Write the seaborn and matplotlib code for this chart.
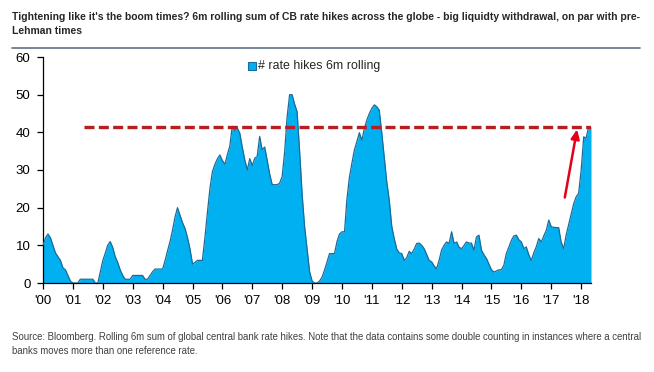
import numpy as np
import pandas as pd
import matplotlib
matplotlib.use("Agg")
import matplotlib.pyplot as plt
import matplotlib.dates as mdates
from matplotlib.patches import Rectangle
import seaborn as sns

# ---- data: monthly 6m rolling sum of CB rate hikes ----
hikes_2000 = [10, 12, 13, 12, 10, 8, 7, 6, 4, 3.5, 2, 0.5]
hikes_2001 = [0, 0, 0, 1, 1, 1, 1, 1, 1, 0, 0, 3]
hikes_2002 = [6, 8, 10, 11, 9.5, 7, 5.5, 3.5, 2, 1, 1, 1]
hikes_2003 = [2, 2, 2, 2, 2, 1, 1, 2, 3, 3.7, 3.7, 3.7]
hikes_2004 = [3.7, 6, 8.5, 11, 14, 17.5, 20, 18, 16, 14.5, 12, 9]
hikes_2005 = [5, 5.5, 6, 6, 6, 12, 18.6, 25, 29.6, 31.5, 33, 34]
hikes_2006 = [32.5, 31.5, 34, 36.3, 41.6, 40.4, 41.2, 39.8, 36, 32.7, 30, 33]
hikes_2007 = [31.2, 33.2, 33.5, 38.9, 35.4, 36.1, 32.7, 29, 26.1, 26.1, 26.1, 26.5]
hikes_2008 = [28.3, 35, 44, 50, 50, 47.5, 45.5, 35, 23.5, 15, 9, 3]
hikes_2009 = [0.5, 0, 0, 0.5, 1.5, 3.4, 5.5, 7.8, 7.8, 7.8, 11, 13]
hikes_2010 = [13.6, 13.6, 22, 28, 31.7, 35.3, 37.5, 39.9, 37.9, 41, 43.3, 45]
hikes_2011 = [46.4, 47.3, 46.8, 45.9, 40, 33.5, 27, 22, 15, 11.8, 9, 8]
hikes_2012 = [7.8, 6, 6.7, 8.4, 7.8, 9, 10.5, 10.6, 10, 9.1, 7.5, 6]
hikes_2013 = [5.6, 4.5, 3.8, 6, 8.7, 10, 10.9, 10.5, 13.6, 10.5, 10.9, 9.5]
hikes_2014 = [9.1, 10, 10.9, 10.6, 10.6, 8.7, 12.2, 12.7, 8.7, 7.5, 6.5, 5]
hikes_2015 = [3.5, 2.9, 3.2, 3.5, 3.5, 4.7, 7.8, 9.5, 11.3, 12.5, 12.7, 11.5]
hikes_2016 = [10.9, 9.1, 9.6, 7.5, 6, 8, 9.6, 11.8, 10.9, 12.5, 14, 16.7]
hikes_2017 = [14.9, 14.8, 14.7, 14.7, 10.9, 9.1, 12.7, 15.5, 18.4, 21, 22.9, 23.8]
hikes_2018 = [30, 38.8, 38.4, 41.3, 41.5]

series_label = "# rate hikes 6m rolling"
threshold = 41.3
threshold_start = "2001-05-10"
arrow_from = ("2017-06-15", 22.7)
arrow_to = ("2017-11-12", 40.8)

title = ("Tightening like it's the boom times? 6m rolling sum of CB rate hikes across the globe - big liquidty withdrawal, on par with pre-\n"
         "Lehman times")
footnote = ("Source: Bloomberg. Rolling 6m sum of global central bank rate hikes. Note that the data contains some double counting in instances where a central\n"
            "banks moves more than one reference rate.")

values = (hikes_2000 + hikes_2001 + hikes_2002 + hikes_2003 + hikes_2004 + hikes_2005
          + hikes_2006 + hikes_2007 + hikes_2008 + hikes_2009 + hikes_2010 + hikes_2011
          + hikes_2012 + hikes_2013 + hikes_2014 + hikes_2015 + hikes_2016 + hikes_2017
          + hikes_2018)
dates = pd.date_range("2000-01-01", periods=len(values), freq="MS")
df = pd.DataFrame({"date": dates, "hikes": values})

sns.set_style("ticks")
plt.rcParams["font.family"] = ["Liberation Sans", "DejaVu Sans"]

fig = plt.figure(figsize=(6.54, 3.72), dpi=100)
ax = fig.add_axes([43 / 654, 1 - 283 / 372, (591 - 43) / 654, (283 - 57) / 372])

fill_c = "#00B0F0"
edge_c = "#1b6b98"
ax.fill_between(df["date"], 0, df["hikes"], color=fill_c, linewidth=0, zorder=2)
sns.lineplot(data=df, x="date", y="hikes", ax=ax, color=edge_c, linewidth=0.9, zorder=3)

# threshold dashed line
ax.plot([pd.Timestamp(threshold_start), df["date"].iloc[-1]], [threshold, threshold],
        color="#B81D24", linewidth=2.4, dashes=(3.0, 1.3), zorder=4, solid_capstyle="butt")

# arrow
ax.annotate("", xy=(pd.Timestamp(arrow_to[0]), arrow_to[1]),
            xytext=(pd.Timestamp(arrow_from[0]), arrow_from[1]),
            arrowprops=dict(arrowstyle="-|>,head_length=0.55,head_width=0.25",
                            color="#E3001B", lw=1.8, shrinkA=0, shrinkB=0), zorder=5)

ax.set_xlim(df["date"].iloc[0], df["date"].iloc[-1])
ax.set_ylim(0, 60)
ax.set_yticks(range(0, 61, 10))
ax.xaxis.set_major_locator(mdates.YearLocator())
ax.xaxis.set_major_formatter(mdates.DateFormatter("'%y"))
ax.set_xlabel("")
ax.set_ylabel("")
for s in ["top", "right"]:
    ax.spines[s].set_visible(False)
for s in ["left", "bottom"]:
    ax.spines[s].set_color("black")
    ax.spines[s].set_linewidth(0.9)
ax.tick_params(axis="both", direction="out", length=4, width=0.9, colors="black",
               labelsize=9.5, pad=5)
ax.grid(False)

# legend-like label
fig.add_artist(Rectangle((248 / 654, 1 - 70 / 372), 8 / 654, 8 / 372, transform=fig.transFigure,
                         facecolor=fill_c, edgecolor=edge_c, linewidth=0.8, clip_on=False))
fig.text(258 / 654, 1 - 66.5 / 372, series_label, fontsize=8.9, va="center", ha="left")

fig.text(12 / 654, 1 - 24 / 372, title, fontsize=7.45, fontweight="bold", va="center", ha="left",
         linespacing=1.5)
fig.add_artist(plt.Line2D([12 / 654, 640 / 654], [1 - 47.5 / 372, 1 - 47.5 / 372],
                          transform=fig.transFigure, color="#5f7285", linewidth=1.2))
fig.text(12 / 654, 1 - 344 / 372, footnote, fontsize=6.9, color="#404040", va="center",
         ha="left", linespacing=1.6)

fig.savefig("out.png", dpi=100)
